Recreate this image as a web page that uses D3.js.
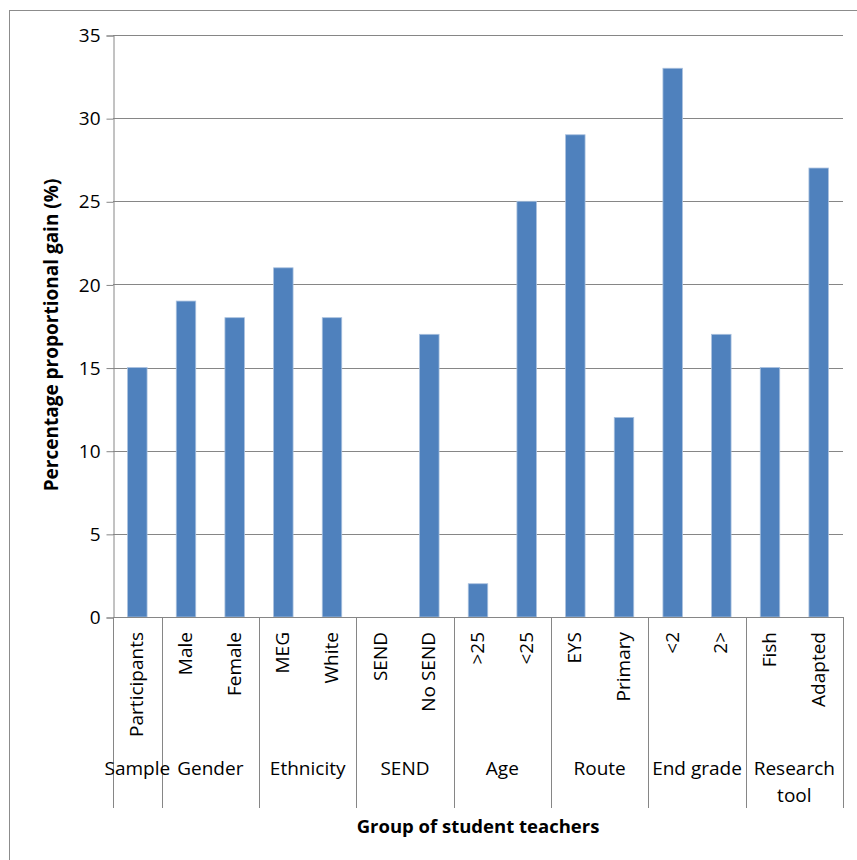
<!DOCTYPE html>
<html><head><meta charset="utf-8">
<script src="https://cdn.jsdelivr.net/npm/d3@7"></script>
<style>body{margin:0;background:#fff}svg{display:block}text{font-family:"Open Sans",sans-serif;fill:#000}</style>
</head><body><script>
const categories = ["Participants","Male","Female","MEG","White","SEND","No SEND",">25","<25","EYS","Primary","<2","2>","Fish","Adapted"];
const values = [15,19,18,21,18,null,17,2,25,29,12,33,17,15,27];
const groupNames = [["Sample"],["Gender"],["Ethnicity"],["SEND"],["Age"],["Route"],["End grade"],["Research","tool"]];
const groupSizes = [1,2,2,2,2,2,2,2];
const yTicks = [0,5,10,15,20,25,30,35];
const yTitle = "Percentage proportional gain (%)";
const xTitle = "Group of student teachers";

const W=857,H=860;
const svg=d3.select("body").append("svg").attr("width",W).attr("height",H);
svg.append("rect").attr("x",9.5).attr("y",10.5).attr("width",900).attr("height",900).attr("fill","none").attr("stroke","#8c8c8c").attr("stroke-width",1);

const L=113,R=843,T=35,B=617,SEP=808;
const x=d3.scaleBand().domain(categories).range([L,R]).paddingInner(0.6).paddingOuter(0.3);
const y=d3.scaleLinear().domain([0,35]).range([B,T]);
const gray="#868686";
const FS=19;

svg.append("g").selectAll("line").data(yTicks.filter(d=>d>0)).join("line")
 .attr("x1",L).attr("x2",R).attr("y1",d=>Math.round(y(d))+0.5).attr("y2",d=>Math.round(y(d))+0.5)
 .attr("stroke",gray).attr("stroke-width",1);

const ya=svg.append("g").attr("transform",`translate(${L+0.5},0.5)`)
 .call(d3.axisLeft(y).tickValues(yTicks).tickSize(7).tickPadding(6));
ya.select(".domain").attr("stroke",gray);
ya.selectAll(".tick line").attr("stroke",gray);
ya.selectAll(".tick text").attr("font-size",FS).attr("font-family","'Open Sans',sans-serif").attr("fill","#000");

svg.append("g").selectAll("rect").data(categories.map((c,i)=>({c,v:values[i]})).filter(d=>d.v!=null)).join("rect")
 .attr("x",d=>x(d.c)).attr("width",x.bandwidth()).attr("y",d=>y(d.v)).attr("height",d=>y(0)-y(d.v))
 .attr("fill","#4f81bd").attr("stroke","#a9c0de").attr("stroke-width",0.8);

svg.append("line").attr("x1",L).attr("x2",R).attr("y1",B+0.5).attr("y2",B+0.5).attr("stroke",gray);

const step=x.step();
let cum=0;const bounds=[0];
groupSizes.forEach(s=>{cum+=s;bounds.push(cum);});
svg.append("g").selectAll("line").data(bounds).join("line")
 .attr("x1",d=>Math.round(L+d*step)+0.5).attr("x2",d=>Math.round(L+d*step)+0.5)
 .attr("y1",B).attr("y2",SEP).attr("stroke",gray);

svg.append("g").selectAll("text").data(categories).join("text")
 .attr("transform",d=>`translate(${x(d)+x.bandwidth()/2+6},632) rotate(-90)`)
 .attr("text-anchor","end").attr("font-size",FS).text(d=>d);

groupNames.forEach((g,i)=>{
  const cx=L+(bounds[i]+bounds[i+1])/2*step;
  const t=svg.append("text").attr("x",cx).attr("y",775).attr("text-anchor","middle").attr("font-size",FS);
  g.forEach((line,j)=>t.append("tspan").attr("x",cx).attr("dy",j?27:0).text(line));
});

svg.append("text").attr("x",(L+R)/2).attr("y",833).attr("text-anchor","middle").attr("font-size",18.5).attr("font-weight","bold").text(xTitle);
svg.append("text").attr("transform",`translate(58,335) rotate(-90)`).attr("text-anchor","middle").attr("font-size",19).attr("font-weight","bold").text(yTitle);
</script></body></html>
